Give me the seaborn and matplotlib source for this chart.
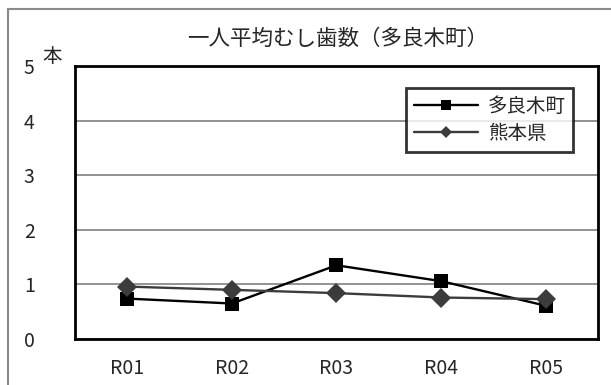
import matplotlib
matplotlib.use("Agg")
import matplotlib.pyplot as plt
from matplotlib.lines import Line2D
import seaborn as sns
import pandas as pd

years = ["R01", "R02", "R03", "R04", "R05"]
taragi = [0.74, 0.65, 1.35, 1.06, 0.61]
kumamoto = [0.96, 0.90, 0.84, 0.76, 0.73]
series_names = ["多良木町", "熊本県"]
title = "一人平均むし歯数（多良木町）"
unit = "本"

df = pd.DataFrame({
    "year": years * 2,
    "value": taragi + kumamoto,
    "area": [series_names[0]] * len(years) + [series_names[1]] * len(years),
})

sns.set_style("white")
plt.rcParams["font.family"] = ["Noto Sans CJK JP", "DejaVu Sans"]

fig = plt.figure(figsize=(6.11, 3.85), dpi=100)
ax = fig.add_axes([0.1227, 0.1195, 0.856, 0.709])

palette = {series_names[0]: "black", series_names[1]: "#3c3c3c"}
markers = {series_names[0]: "s", series_names[1]: "D"}
sns.lineplot(data=df, x="year", y="value", hue="area", style="area",
             markers=markers, dashes=False, palette=palette, ax=ax,
             markersize=10, linewidth=1.7, markeredgewidth=0)

ax.set_xlim(-0.5, 4.5)
ax.set_ylim(0, 5)
ax.set_yticks(range(6))
ax.set_xticks(range(5))
ax.set_xticks([0.5, 1.5, 2.5, 3.5], minor=True)
ax.set_xlabel("")
ax.set_ylabel("")
ax.grid(axis="y", color="#808080", linewidth=1.2)
ax.set_axisbelow(True)
for s in ax.spines.values():
    s.set_color("black")
    s.set_linewidth(2)
ax.tick_params(axis="x", which="major", length=0, labelsize=14, pad=14)
ax.tick_params(axis="x", which="minor", direction="in", length=5, width=1, color="#555555")
ax.tick_params(axis="y", which="major", direction="in", length=4, labelsize=14, pad=29)

ax.text(-0.025, 1.035, unit, transform=ax.transAxes, fontsize=14, ha="right", va="center")
fig.text(0.553, 0.898, title, fontsize=15.5, ha="center", va="center")

handles, labels = ax.get_legend_handles_labels()
leg = ax.legend(handles, labels, loc="upper left", bbox_to_anchor=(0.633, 0.919),
                borderaxespad=0, fontsize=14, markerscale=0.65, handlelength=3.3,
                frameon=True, fancybox=False, edgecolor="black", labelspacing=0.3,
                borderpad=0.4, handletextpad=0.5)
leg.get_frame().set_linewidth(2)

# outer chart border
fig.add_artist(Line2D([8 / 611, 1], [1 - 9 / 385, 1 - 9 / 385], color="#8a8a8a", lw=1.5))
fig.add_artist(Line2D([8 / 611, 8 / 611], [0, 1 - 9 / 385], color="#8a8a8a", lw=1.5))

fig.savefig("out.png", dpi=100)
